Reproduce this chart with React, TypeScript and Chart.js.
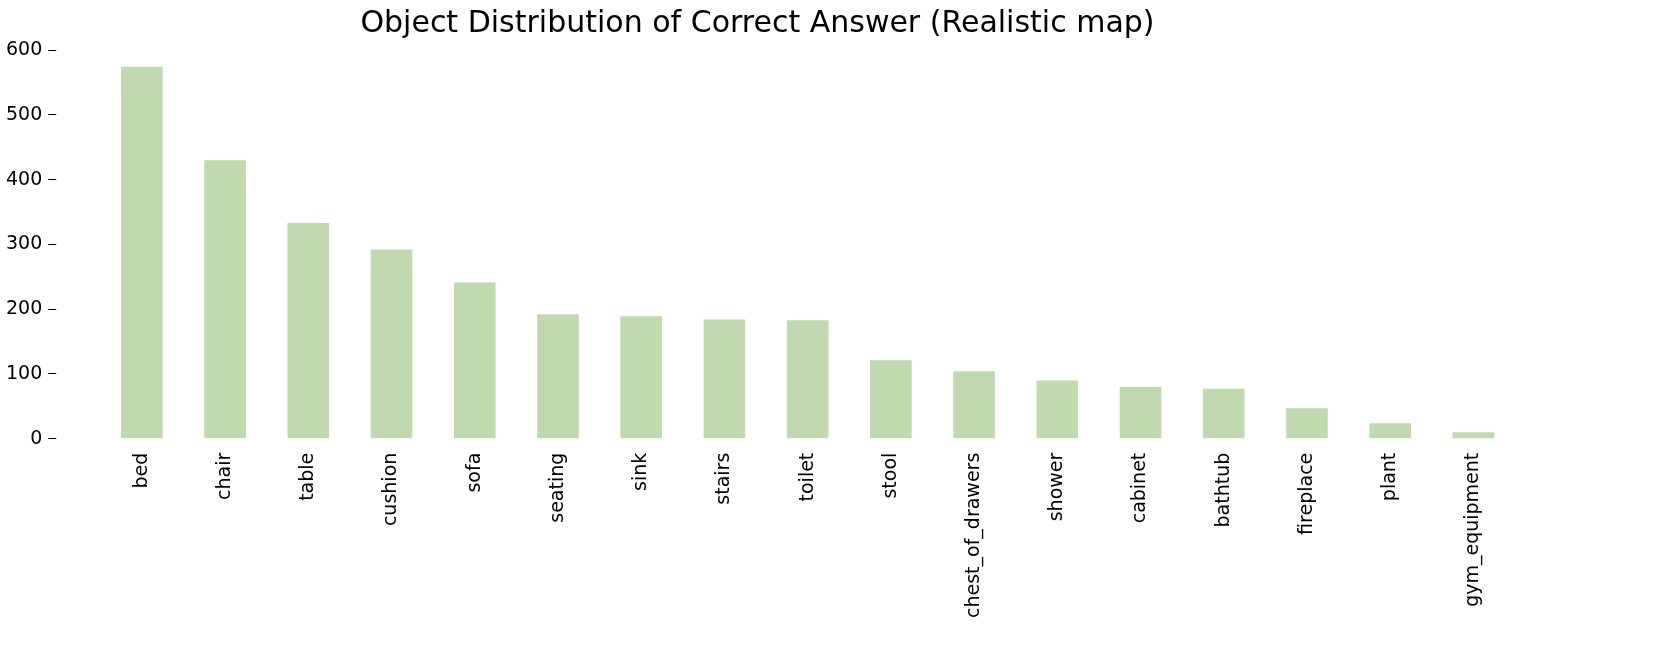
import React, { useEffect, useRef } from "react";
import { Chart, registerables } from "chart.js";

Chart.register(...registerables);

const categories = [
  "bed", "chair", "table", "cushion", "sofa", "seating", "sink", "stairs", "toilet",
  "stool", "chest_of_drawers", "shower", "cabinet", "bathtub", "fireplace", "plant", "gym_equipment",
];
const counts = [574, 430, 333, 292, 241, 192, 189, 184, 183, 121, 104, 90, 80, 77, 47, 24, 10];
const yTicks = [0, 100, 200, 300, 400, 500, 600];

const FONT = "'DejaVu Sans', sans-serif";

const App: React.FC = () => {
  const canvasRef = useRef<HTMLCanvasElement>(null);

  useEffect(() => {
    if (!canvasRef.current) return;
    const chart = new Chart(canvasRef.current, {
      type: "bar",
      data: {
        labels: categories,
        datasets: [
          {
            data: counts,
            backgroundColor: "#c0d9b1",
            categoryPercentage: 1,
            barPercentage: 0.5,
          },
        ],
      },
      options: {
        animation: false,
        responsive: false,
        layout: { padding: { top: 0, right: 146, bottom: 40, left: 0 } },
        plugins: {
          legend: { display: false },
          tooltip: { enabled: false },
          title: {
            display: true,
            text: "Object Distribution of Correct Answer (Realistic map)",
            color: "#000",
            font: { family: FONT, size: 30, weight: "normal" },
            padding: { top: 6, bottom: 8 },
          },
        },
        scales: {
          x: {
            border: { display: false },
            grid: { display: false },
            ticks: {
              color: "#000",
              font: { family: FONT, size: 19 },
              maxRotation: 90,
              minRotation: 90,
              padding: 6,
            },
          },
          y: {
            min: 0,
            max: 600,
            border: { display: false },
            afterBuildTicks: (axis: any) => {
              axis.ticks = yTicks.map((v) => ({ value: v }));
            },
            grid: {
              display: true,
              drawOnChartArea: false,
              tickLength: 52,
              tickBorderDash: [8, 100],
              color: "#000",
            },
            ticks: {
              color: "#000",
              font: { family: FONT, size: 19 },
              padding: 6,
            },
          },
        },
      },
    });
    return () => chart.destroy();
  }, []);

  return (
    <div style={{ position: "fixed", left: 0, top: 0, width: 1661, height: 664, background: "#fff" }}>
      <canvas ref={canvasRef} width={1661} height={664} />
    </div>
  );
};

export default App;
